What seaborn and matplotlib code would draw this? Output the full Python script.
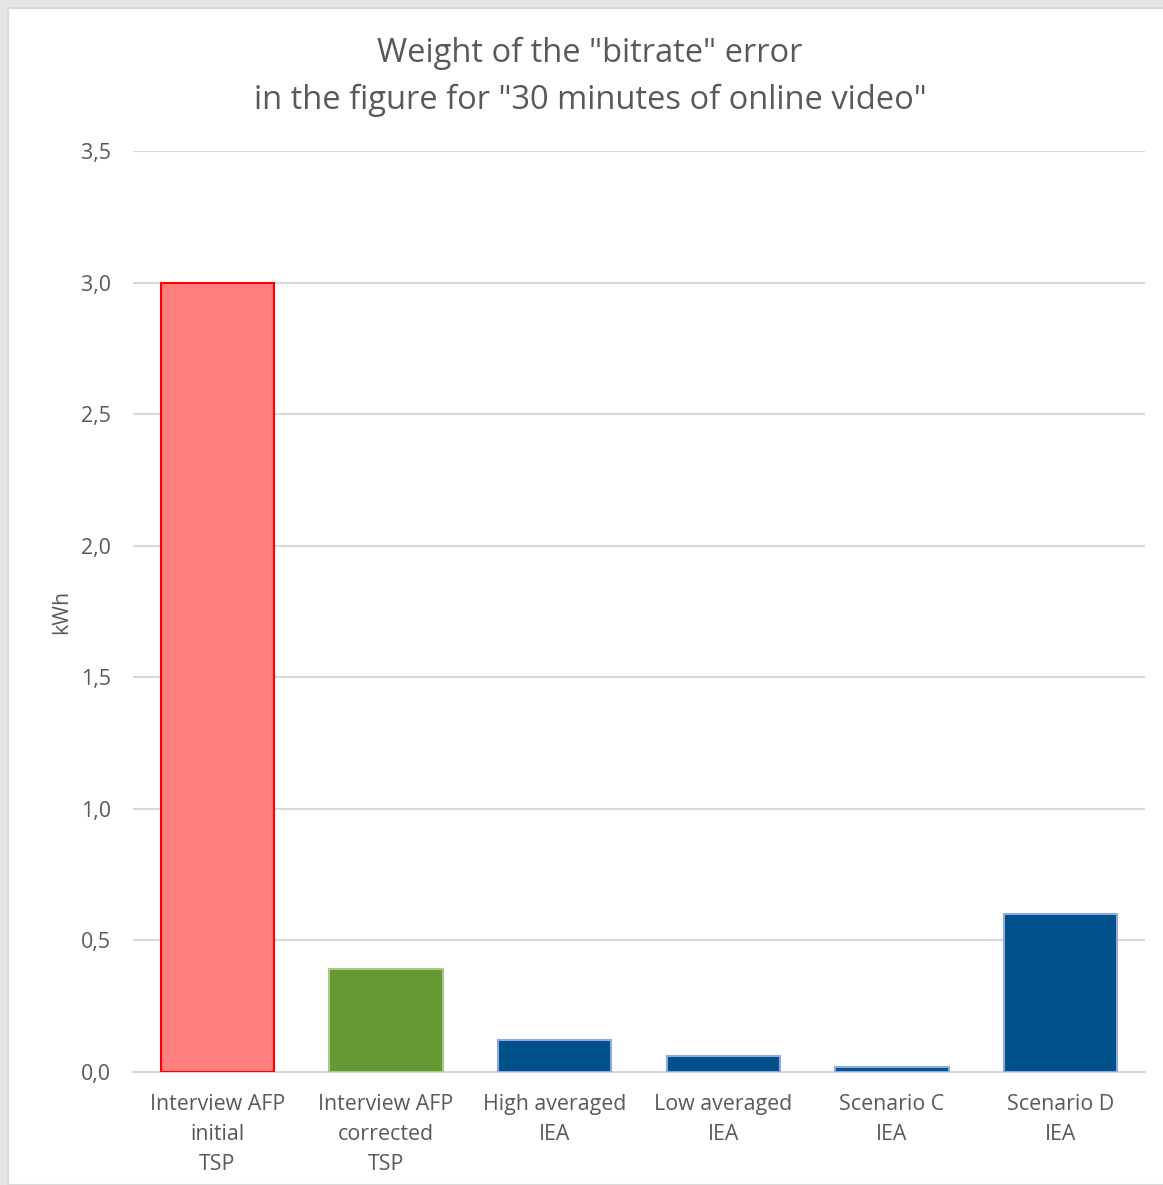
import pandas as pd
import matplotlib.pyplot as plt
import seaborn as sns
from matplotlib.patches import Rectangle
from matplotlib.ticker import FuncFormatter

categories = ["Interview AFP\ninitial\nTSP", "Interview AFP\ncorrected\nTSP",
              "High averaged\nIEA", "Low averaged\nIEA", "Scenario C\nIEA", "Scenario D\nIEA"]
values = [3.0, 0.39, 0.12, 0.06, 0.02, 0.60]
fill_colors = ["#FF7F7F", "#669933", "#00508C", "#00508C", "#00508C", "#00508C"]
edge_colors = ["#FF0000", "#A9C98A", "#8FAADC", "#8FAADC", "#8FAADC", "#8FAADC"]

sns.set_theme(style="white")
plt.rcParams['font.family'] = ['Open Sans', 'DejaVu Sans']

df = pd.DataFrame({"cat": categories, "val": values})

fig = plt.figure(figsize=(11.63, 11.85), dpi=100, facecolor="#E6E6E6")
W, H = 1163, 1185
# white chart area with light border
fig.patches.append(Rectangle((8 / W, 0), 1, 1 - 8 / H, transform=fig.transFigure,
                             facecolor="white", edgecolor="#D9D9D9", lw=1.5, zorder=-10))

ax = fig.add_axes([133 / W, 1 - 1072 / H, (1145 - 133) / W, (1072 - 151) / H])
ax.set_facecolor("none")
sns.barplot(data=df, x="cat", y="val", hue="cat", palette=fill_colors, legend=False,
            width=0.67, saturation=1, ax=ax, zorder=3)
for p, ec in zip(ax.patches, edge_colors):
    p.set_edgecolor(ec)
    p.set_linewidth(1.5)

ax.set_ylim(0, 3.5)
ax.set_xlim(-0.5, 5.5)
ax.set_yticks([0, 0.5, 1.0, 1.5, 2.0, 2.5, 3.0, 3.5])
ax.yaxis.set_major_formatter(FuncFormatter(lambda v, _: f"{v:.1f}".replace(".", ",")))
ax.grid(axis="y", color="#D9D9D9", lw=1.5, zorder=0)
ax.set_axisbelow(True)
for s in ["top", "right", "left"]:
    ax.spines[s].set_visible(False)
ax.spines["bottom"].set_color("#D9D9D9")
ax.spines["bottom"].set_linewidth(1.5)
ax.tick_params(axis="both", length=0, labelsize=15.4, colors="#595959")
ax.tick_params(axis="y", pad=16)
ax.tick_params(axis="x", pad=16)
for lbl in ax.get_xticklabels():
    lbl.set_linespacing(1.55)
ax.set_xlabel("")
ax.set_ylabel("kWh", fontsize=15.4, color="#595959", labelpad=6)

fig.text(590 / W, 1 - 77 / H, 'Weight of the "bitrate" error\nin the figure for "30 minutes of online video"',
         ha="center", va="center", fontsize=23.5, color="#595959", linespacing=1.55)

fig.savefig("out.png", dpi=100, facecolor=fig.get_facecolor())
